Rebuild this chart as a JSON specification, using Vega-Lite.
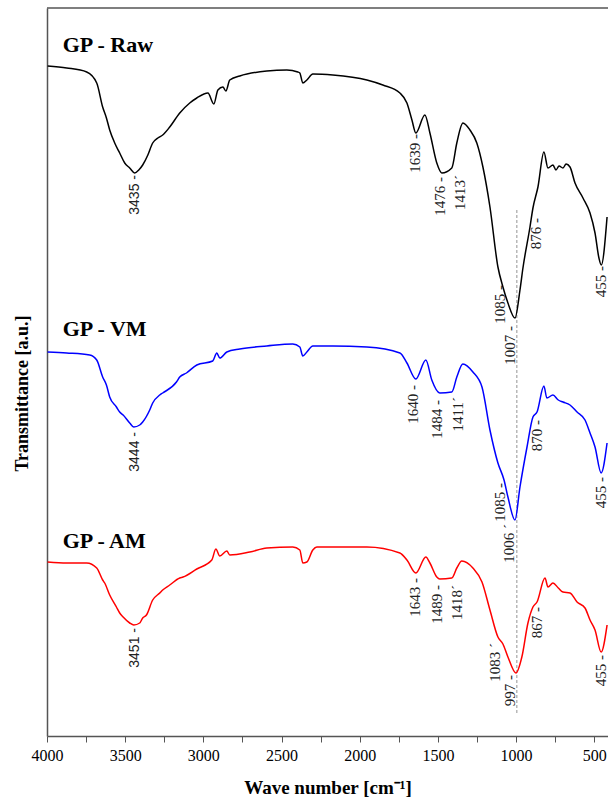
{
  "$schema": "https://vega.github.io/schema/vega-lite/v6.json",
  "width": 561,
  "height": 728,
  "autosize": {"type": "none"},
  "padding": {"left": 47, "top": 8, "right": 0, "bottom": 63},
  "background": "white",
  "config": {"view": {"stroke": null}},
  "datasets": {
    "spectra": [
      {"s":"Raw","wn":3996,"t":670},{"s":"Raw","wn":3874,"t":668},{"s":"Raw","wn":3746,"t":664},{"s":"Raw","wn":3682,"t":653},{"s":"Raw","wn":3644,"t":629},{"s":"Raw","wn":3620,"t":618},{"s":"Raw","wn":3599,"t":606},{"s":"Raw","wn":3567,"t":593},{"s":"Raw","wn":3535,"t":583},{"s":"Raw","wn":3503,"t":573},{"s":"Raw","wn":3471,"t":568},{"s":"Raw","wn":3439,"t":563},{"s":"Raw","wn":3413,"t":566},{"s":"Raw","wn":3388,"t":571},{"s":"Raw","wn":3355,"t":581},{"s":"Raw","wn":3324,"t":593},{"s":"Raw","wn":3291,"t":598},{"s":"Raw","wn":3260,"t":601},{"s":"Raw","wn":3215,"t":609},{"s":"Raw","wn":3151,"t":623},{"s":"Raw","wn":3087,"t":633},{"s":"Raw","wn":3042,"t":638},{"s":"Raw","wn":2971,"t":643},{"s":"Raw","wn":2933,"t":632},{"s":"Raw","wn":2907,"t":646},{"s":"Raw","wn":2875,"t":649},{"s":"Raw","wn":2856,"t":645},{"s":"Raw","wn":2831,"t":656},{"s":"Raw","wn":2767,"t":660},{"s":"Raw","wn":2594,"t":665},{"s":"Raw","wn":2466,"t":666},{"s":"Raw","wn":2396,"t":664},{"s":"Raw","wn":2383,"t":663},{"s":"Raw","wn":2364,"t":653},{"s":"Raw","wn":2338,"t":656},{"s":"Raw","wn":2300,"t":662},{"s":"Raw","wn":2172,"t":661},{"s":"Raw","wn":1954,"t":656},{"s":"Raw","wn":1852,"t":651},{"s":"Raw","wn":1743,"t":643},{"s":"Raw","wn":1698,"t":633},{"s":"Raw","wn":1666,"t":616},{"s":"Raw","wn":1641,"t":603},{"s":"Raw","wn":1583,"t":621},{"s":"Raw","wn":1551,"t":603},{"s":"Raw","wn":1507,"t":573},{"s":"Raw","wn":1475,"t":563},{"s":"Raw","wn":1411,"t":568},{"s":"Raw","wn":1379,"t":593},{"s":"Raw","wn":1340,"t":613},{"s":"Raw","wn":1295,"t":606},{"s":"Raw","wn":1251,"t":593},{"s":"Raw","wn":1212,"t":569},{"s":"Raw","wn":1167,"t":529},{"s":"Raw","wn":1116,"t":469},{"s":"Raw","wn":1084,"t":449},{"s":"Raw","wn":1052,"t":433},{"s":"Raw","wn":1007,"t":418},{"s":"Raw","wn":975,"t":446},{"s":"Raw","wn":956,"t":468},{"s":"Raw","wn":911,"t":509},{"s":"Raw","wn":892,"t":528},{"s":"Raw","wn":860,"t":549},{"s":"Raw","wn":822,"t":584},{"s":"Raw","wn":796,"t":568},{"s":"Raw","wn":764,"t":571},{"s":"Raw","wn":745,"t":566},{"s":"Raw","wn":725,"t":570},{"s":"Raw","wn":700,"t":568},{"s":"Raw","wn":680,"t":572},{"s":"Raw","wn":655,"t":569},{"s":"Raw","wn":623,"t":553},{"s":"Raw","wn":572,"t":538},{"s":"Raw","wn":527,"t":523},{"s":"Raw","wn":495,"t":503},{"s":"Raw","wn":470,"t":478},{"s":"Raw","wn":455,"t":471},{"s":"Raw","wn":418,"t":519},
      {"s":"VM","wn":3996,"t":384},{"s":"VM","wn":3874,"t":383},{"s":"VM","wn":3727,"t":381},{"s":"VM","wn":3682,"t":376},{"s":"VM","wn":3644,"t":359},{"s":"VM","wn":3620,"t":351},{"s":"VM","wn":3599,"t":339},{"s":"VM","wn":3556,"t":329},{"s":"VM","wn":3535,"t":324},{"s":"VM","wn":3513,"t":321},{"s":"VM","wn":3471,"t":313},{"s":"VM","wn":3445,"t":309},{"s":"VM","wn":3407,"t":311},{"s":"VM","wn":3388,"t":314},{"s":"VM","wn":3343,"t":326},{"s":"VM","wn":3324,"t":333},{"s":"VM","wn":3279,"t":341},{"s":"VM","wn":3260,"t":343},{"s":"VM","wn":3172,"t":354},{"s":"VM","wn":3151,"t":359},{"s":"VM","wn":3108,"t":363},{"s":"VM","wn":3042,"t":371},{"s":"VM","wn":2940,"t":375},{"s":"VM","wn":2914,"t":383},{"s":"VM","wn":2895,"t":378},{"s":"VM","wn":2850,"t":384},{"s":"VM","wn":2767,"t":387},{"s":"VM","wn":2594,"t":390},{"s":"VM","wn":2428,"t":392},{"s":"VM","wn":2383,"t":389},{"s":"VM","wn":2364,"t":380},{"s":"VM","wn":2338,"t":384},{"s":"VM","wn":2300,"t":390},{"s":"VM","wn":2172,"t":390},{"s":"VM","wn":1954,"t":389},{"s":"VM","wn":1743,"t":383},{"s":"VM","wn":1698,"t":373},{"s":"VM","wn":1641,"t":357},{"s":"VM","wn":1577,"t":376},{"s":"VM","wn":1539,"t":356},{"s":"VM","wn":1488,"t":343},{"s":"VM","wn":1411,"t":344},{"s":"VM","wn":1379,"t":359},{"s":"VM","wn":1340,"t":372},{"s":"VM","wn":1276,"t":364},{"s":"VM","wn":1218,"t":349},{"s":"VM","wn":1167,"t":306},{"s":"VM","wn":1116,"t":273},{"s":"VM","wn":1077,"t":256},{"s":"VM","wn":1052,"t":239},{"s":"VM","wn":1007,"t":216},{"s":"VM","wn":975,"t":249},{"s":"VM","wn":930,"t":289},{"s":"VM","wn":892,"t":319},{"s":"VM","wn":866,"t":324},{"s":"VM","wn":822,"t":350},{"s":"VM","wn":803,"t":338},{"s":"VM","wn":764,"t":341},{"s":"VM","wn":730,"t":336},{"s":"VM","wn":700,"t":334},{"s":"VM","wn":655,"t":331},{"s":"VM","wn":610,"t":324},{"s":"VM","wn":559,"t":316},{"s":"VM","wn":527,"t":303},{"s":"VM","wn":495,"t":289},{"s":"VM","wn":456,"t":263},{"s":"VM","wn":418,"t":293},
      {"s":"AM","wn":3996,"t":174},{"s":"AM","wn":3874,"t":173},{"s":"AM","wn":3746,"t":173},{"s":"AM","wn":3682,"t":168},{"s":"AM","wn":3644,"t":156},{"s":"AM","wn":3631,"t":153},{"s":"AM","wn":3599,"t":141},{"s":"AM","wn":3556,"t":129},{"s":"AM","wn":3535,"t":123},{"s":"AM","wn":3513,"t":119},{"s":"AM","wn":3471,"t":113},{"s":"AM","wn":3445,"t":111},{"s":"AM","wn":3407,"t":113},{"s":"AM","wn":3388,"t":118},{"s":"AM","wn":3364,"t":121},{"s":"AM","wn":3324,"t":136},{"s":"AM","wn":3279,"t":143},{"s":"AM","wn":3260,"t":146},{"s":"AM","wn":3215,"t":151},{"s":"AM","wn":3151,"t":158},{"s":"AM","wn":3130,"t":159},{"s":"AM","wn":3042,"t":167},{"s":"AM","wn":2946,"t":176},{"s":"AM","wn":2920,"t":187},{"s":"AM","wn":2895,"t":180},{"s":"AM","wn":2850,"t":185},{"s":"AM","wn":2831,"t":181},{"s":"AM","wn":2703,"t":184},{"s":"AM","wn":2594,"t":188},{"s":"AM","wn":2428,"t":189},{"s":"AM","wn":2383,"t":186},{"s":"AM","wn":2364,"t":173},{"s":"AM","wn":2338,"t":174},{"s":"AM","wn":2300,"t":186},{"s":"AM","wn":2274,"t":189},{"s":"AM","wn":1954,"t":189},{"s":"AM","wn":1743,"t":183},{"s":"AM","wn":1698,"t":176},{"s":"AM","wn":1641,"t":163},{"s":"AM","wn":1577,"t":179},{"s":"AM","wn":1551,"t":173},{"s":"AM","wn":1507,"t":159},{"s":"AM","wn":1488,"t":157},{"s":"AM","wn":1411,"t":158},{"s":"AM","wn":1379,"t":168},{"s":"AM","wn":1347,"t":175},{"s":"AM","wn":1276,"t":168},{"s":"AM","wn":1218,"t":154},{"s":"AM","wn":1167,"t":126},{"s":"AM","wn":1116,"t":99},{"s":"AM","wn":1084,"t":92},{"s":"AM","wn":1052,"t":79},{"s":"AM","wn":1001,"t":63},{"s":"AM","wn":963,"t":79},{"s":"AM","wn":924,"t":113},{"s":"AM","wn":892,"t":129},{"s":"AM","wn":866,"t":134},{"s":"AM","wn":815,"t":158},{"s":"AM","wn":796,"t":149},{"s":"AM","wn":764,"t":153},{"s":"AM","wn":730,"t":148},{"s":"AM","wn":700,"t":144},{"s":"AM","wn":655,"t":143},{"s":"AM","wn":610,"t":134},{"s":"AM","wn":559,"t":128},{"s":"AM","wn":527,"t":116},{"s":"AM","wn":495,"t":106},{"s":"AM","wn":456,"t":84},{"s":"AM","wn":418,"t":111}
    ],
    "peaks": [
      {"s":"Raw","wn":3438,"t":561,"label":"3435 -"},
      {"s":"Raw","wn":1647,"t":602,"label":"1639 -"},
      {"s":"Raw","wn":1488,"t":559,"label":"1476 -"},
      {"s":"Raw","wn":1360,"t":561,"label":"1413´"},
      {"s":"Raw","wn":1103,"t":451,"label":"1085 -"},
      {"s":"Raw","wn":1039,"t":410,"label":"1007 -"},
      {"s":"Raw","wn":873,"t":518,"label":"876 -"},
      {"s":"Raw","wn":457,"t":470,"label":"455 -"},
      {"s":"VM","wn":3438,"t":304,"label":"3444 -"},
      {"s":"VM","wn":1660,"t":351,"label":"1640 -"},
      {"s":"VM","wn":1507,"t":336,"label":"1484 -"},
      {"s":"VM","wn":1373,"t":339,"label":"1411´"},
      {"s":"VM","wn":1103,"t":253,"label":"1085 -"},
      {"s":"VM","wn":1046,"t":212,"label":"1006 ´"},
      {"s":"VM","wn":866,"t":316,"label":"870 -"},
      {"s":"VM","wn":457,"t":259,"label":"455 -"},
      {"s":"AM","wn":3438,"t":108,"label":"3451 -"},
      {"s":"AM","wn":1647,"t":158,"label":"1643 -"},
      {"s":"AM","wn":1507,"t":151,"label":"1489 -"},
      {"s":"AM","wn":1379,"t":151,"label":"1418´"},
      {"s":"AM","wn":1135,"t":93,"label":"1083 ´"},
      {"s":"AM","wn":1039,"t":61,"label":"997 -"},
      {"s":"AM","wn":866,"t":129,"label":"867 -"},
      {"s":"AM","wn":457,"t":81,"label":"455 -"}
    ],
    "names": [
      {"s":"Raw","wn":3900,"t":684,"label":"GP - Raw"},
      {"s":"VM","wn":3900,"t":400,"label":"GP - VM"},
      {"s":"AM","wn":3900,"t":188,"label":"GP - AM"}
    ]
  },
  "layer": [
    {
      "data": {"values": [{"t": 728}]},
      "mark": {"type": "rule", "color": "#555555", "strokeWidth": 1.5},
      "encoding": {
        "y": {"field": "t", "type": "quantitative", "scale": {"domain": [0, 728], "nice": false, "zero": false},
              "axis": {"domain": true, "domainColor": "#555555", "domainWidth": 1.5, "ticks": false, "labels": false, "grid": false,
                       "title": "Transmittance [a.u.]", "titleFont": "Liberation Serif", "titleFontSize": 18, "titleFontWeight": "bold", "titleColor": "#000000",
                       "titleX": -25, "titleY": 385, "titleAngle": 270, "titleAlign": "center", "titleBaseline": "middle"}}
      }
    },
    {
      "data": {"values": [{"wn": 995, "t": 526, "t2": 23}]},
      "mark": {"type": "rule", "color": "#777777", "strokeWidth": 0.8, "strokeDash": [3, 2]},
      "encoding": {
        "x": {"field": "wn", "type": "quantitative", "scale": {"domain": [4000, 412], "nice": false, "zero": false}},
        "y": {"field": "t", "type": "quantitative", "scale": {"domain": [0, 728], "nice": false, "zero": false}},
        "y2": {"field": "t2"}
      }
    },
    {
      "data": {"name": "spectra"},
      "mark": {"type": "line", "strokeWidth": 1.5, "clip": true, "interpolate": "monotone"},
      "encoding": {
        "x": {"field": "wn", "type": "quantitative", "scale": {"domain": [4000, 412], "nice": false, "zero": false},
              "axis": {"values": [4000,3750,3500,3250,3000,2750,2500,2250,2000,1750,1500,1250,1000,750,500],
                       "labelExpr": "datum.value % 500 === 0 ? '' + datum.value : ''",
                       "domainColor": "#555555", "domainWidth": 1.5, "tickColor": "#555555", "tickWidth": 1, "tickSize": 6,
                       "grid": false, "labelFont": "Liberation Serif", "labelFontSize": 16, "labelColor": "#000000", "labelPadding": 5,
                       "labelOverlap": false, "labelFlush": false,
                       "title": "Wave number [cm⁻¹]", "titleFont": "Liberation Serif", "titleFontSize": 19, "titleFontWeight": "bold",
                       "titleColor": "#000000", "titlePadding": 15}},
        "y": {"field": "t", "type": "quantitative", "scale": {"domain": [0, 728], "nice": false, "zero": false}},
        "color": {"field": "s", "type": "nominal", "scale": {"domain": ["Raw", "VM", "AM"], "range": ["#000000", "#0000ff", "#ff0000"]}, "legend": null}
      }
    },
    {
      "data": {"name": "peaks"},
      "transform": [{"filter": "datum.wn < 3000"}],
      "mark": {"type": "text", "angle": 270, "align": "right", "baseline": "middle", "font": "Liberation Serif", "fontSize": 15, "color": "#222222"},
      "encoding": {
        "x": {"field": "wn", "type": "quantitative", "scale": {"domain": [4000, 412], "nice": false, "zero": false}},
        "y": {"field": "t", "type": "quantitative", "scale": {"domain": [0, 728], "nice": false, "zero": false}},
        "text": {"field": "label"}
      }
    },
    {
      "data": {"name": "peaks"},
      "transform": [{"filter": "datum.wn >= 3000"}],
      "mark": {"type": "text", "angle": 270, "align": "right", "baseline": "middle", "font": "Liberation Sans", "fontSize": 14, "color": "#222222"},
      "encoding": {
        "x": {"field": "wn", "type": "quantitative", "scale": {"domain": [4000, 412], "nice": false, "zero": false}},
        "y": {"field": "t", "type": "quantitative", "scale": {"domain": [0, 728], "nice": false, "zero": false}},
        "text": {"field": "label"}
      }
    },
    {
      "data": {"name": "names"},
      "mark": {"type": "text", "align": "left", "baseline": "alphabetic", "font": "Liberation Serif", "fontSize": 22, "fontWeight": "bold", "color": "#000000"},
      "encoding": {
        "x": {"field": "wn", "type": "quantitative", "scale": {"domain": [4000, 412], "nice": false, "zero": false}},
        "y": {"field": "t", "type": "quantitative", "scale": {"domain": [0, 728], "nice": false, "zero": false}},
        "text": {"field": "label"}
      }
    }
  ]
}
